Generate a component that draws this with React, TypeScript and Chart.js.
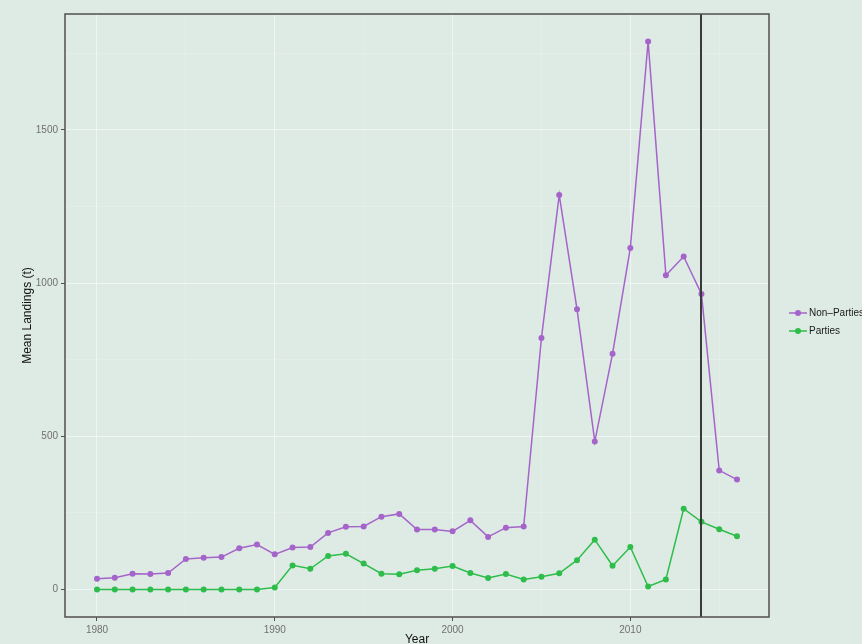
import React, { useEffect, useRef } from "react";
import { Chart, registerables } from "chart.js";
Chart.register(...registerables);

const years = [
  1980, 1981, 1982, 1983, 1984, 1985, 1986, 1987, 1988, 1989,
  1990, 1991, 1992, 1993, 1994, 1995, 1996, 1997, 1998, 1999,
  2000, 2001, 2002, 2003, 2004, 2005, 2006, 2007, 2008, 2009,
  2010, 2011, 2012, 2013, 2014, 2015, 2016,
];
const nonParties = [
  35, 39, 52, 51, 54, 100, 104, 106, 135, 147,
  115, 137, 139, 185, 205, 206, 238, 247, 196, 196,
  190, 226, 172, 202, 206, 821, 1288, 915, 483, 770,
  1115, 1789, 1026, 1087, 965, 389, 359,
];
const parties = [
  0, 0, 0, 0, 0, 0, 0, 0, 0, 0,
  7, 79, 68, 110, 117, 85, 52, 50, 63, 68,
  77, 54, 38, 51, 33, 42, 53, 96, 163, 78,
  139, 10, 33, 264, 221, 197, 174,
];
const seriesNames = ["Non\u2013Parties", "Parties"];
const seriesColors = ["#a564c9", "#2ebd4a"];
const xMajorTicks = [1980, 1990, 2000, 2010];
const xMinorTicks = [1985, 1995, 2005, 2015];
const yMajorTicks = [0, 500, 1000, 1500];
const yMinorTicks = [250, 750, 1250, 1750];
const markerYear = 2014;
const xTitle = "Year";
const yTitle = "Mean Landings (t)";

const BG = "#deebe5";
const FONT = "'Liberation Sans', Arial, Helvetica, sans-serif";

export default function App() {
  const ref = useRef<HTMLCanvasElement | null>(null);
  useEffect(() => {
    document.body.style.margin = "0";
    document.body.style.background = BG;
    const canvas = ref.current!;
    const allY = nonParties.concat(parties);
    const yMinD = Math.min(...allY);
    const yMaxD = Math.max(...allY);
    const yPad = (yMaxD - yMinD) * 0.05;
    const xMinD = years[0];
    const xMaxD = years[years.length - 1];
    const xPad = (xMaxD - xMinD) * 0.05;
    const majorSetX = new Set(xMajorTicks);
    const majorSetY = new Set(yMajorTicks);

    const overlay = {
      id: "overlay",
      afterDatasetsDraw(chart: any) {
        const { ctx, chartArea } = chart;
        const xs = chart.scales.x;
        ctx.save();
        const vx = Math.round(xs.getPixelForValue(markerYear));
        ctx.strokeStyle = "#3a3a3a";
        ctx.lineWidth = 2;
        ctx.beginPath();
        ctx.moveTo(vx, chartArea.top);
        ctx.lineTo(vx, chartArea.bottom);
        ctx.stroke();
        ctx.strokeStyle = "#505050";
        ctx.lineWidth = 1.5;
        ctx.strokeRect(chartArea.left, chartArea.top, chartArea.right - chartArea.left, chartArea.bottom - chartArea.top);
        ctx.restore();
      },
      afterDraw(chart: any) {
        const { ctx } = chart;
        ctx.save();
        const baseY = [313, 331];
        seriesNames.forEach((name, i) => {
          const y = baseY[i];
          ctx.strokeStyle = seriesColors[i];
          ctx.lineWidth = 1.5;
          ctx.beginPath();
          ctx.moveTo(789, y);
          ctx.lineTo(807, y);
          ctx.stroke();
          ctx.fillStyle = seriesColors[i];
          ctx.beginPath();
          ctx.arc(798, y, 3, 0, Math.PI * 2);
          ctx.fill();
          ctx.fillStyle = "#1a1a1a";
          ctx.font = `10px ${FONT}`;
          ctx.textBaseline = "middle";
          ctx.textAlign = "left";
          ctx.fillText(name, 809, y);
        });
        ctx.restore();
      },
    };

    const chart = new Chart(canvas, {
      type: "line",
      data: {
        datasets: [
          {
            label: seriesNames[0],
            data: years.map((x, i) => ({ x, y: nonParties[i] })),
            borderColor: seriesColors[0],
            backgroundColor: seriesColors[0],
            pointBackgroundColor: seriesColors[0],
            pointBorderWidth: 0,
            pointRadius: 3,
            borderWidth: 1.5,
            tension: 0,
          },
          {
            label: seriesNames[1],
            data: years.map((x, i) => ({ x, y: parties[i] })),
            borderColor: seriesColors[1],
            backgroundColor: seriesColors[1],
            pointBackgroundColor: seriesColors[1],
            pointBorderWidth: 0,
            pointRadius: 3,
            borderWidth: 1.5,
            tension: 0,
          },
        ],
      },
      options: {
        animation: false,
        responsive: false,
        devicePixelRatio: 1,
        layout: { padding: { top: 14, right: 93, left: 0, bottom: 0 } },
        plugins: { legend: { display: false }, tooltip: { enabled: false } },
        scales: {
          x: {
            type: "linear",
            min: xMinD - xPad,
            max: xMaxD + xPad,
            afterBuildTicks: (s: any) => {
              s.ticks = xMajorTicks.concat(xMinorTicks).sort((a, b) => a - b).map((v) => ({ value: v }));
            },
            afterFit: (s: any) => {
              s.height = 27;
            },
            ticks: {
              autoSkip: false,
              maxRotation: 0,
              padding: 3,
              color: "#707070",
              font: { family: FONT, size: 10 },
              callback: (v: any) => (majorSetX.has(v) ? String(v) : ""),
            },
            grid: {
              color: (c: any) => (majorSetX.has(c.tick?.value) ? "rgba(255,255,255,0.5)" : "rgba(255,255,255,0.25)"),
              lineWidth: (c: any) => (majorSetX.has(c.tick?.value) ? 1 : 0.7),
              tickColor: (c: any) => (majorSetX.has(c.tick?.value) ? "#505050" : "rgba(0,0,0,0)"),
              tickLength: 4,
            },
            border: { display: false },
            title: {
              display: true,
              text: xTitle,
              color: "#111",
              font: { family: FONT, size: 12 },
              padding: { top: 0, bottom: -3 },
            },
          },
          y: {
            type: "linear",
            min: yMinD - yPad,
            max: yMaxD + yPad,
            afterBuildTicks: (s: any) => {
              s.ticks = yMajorTicks.concat(yMinorTicks).sort((a, b) => a - b).map((v) => ({ value: v }));
            },
            afterFit: (s: any) => {
              s.width = 65;
            },
            ticks: {
              autoSkip: false,
              padding: 3,
              color: "#707070",
              font: { family: FONT, size: 10 },
              callback: (v: any) => (majorSetY.has(v) ? String(v) : ""),
            },
            grid: {
              color: (c: any) => (majorSetY.has(c.tick?.value) ? "rgba(255,255,255,0.5)" : "rgba(255,255,255,0.25)"),
              lineWidth: (c: any) => (majorSetY.has(c.tick?.value) ? 1 : 0.7),
              tickColor: (c: any) => (majorSetY.has(c.tick?.value) ? "#505050" : "rgba(0,0,0,0)"),
              tickLength: 4,
            },
            border: { display: false },
            title: {
              display: true,
              text: yTitle,
              color: "#111",
              font: { family: FONT, size: 12 },
              padding: { top: 20, bottom: 0 },
            },
          },
        },
      },
      plugins: [overlay],
    } as any);
    return () => chart.destroy();
  }, []);
  return (
    <div style={{ position: "absolute", left: 0, top: 0, width: 862, height: 644, background: BG }}>
      <canvas ref={ref} width={862} height={644} style={{ display: "block" }} />
    </div>
  );
}
